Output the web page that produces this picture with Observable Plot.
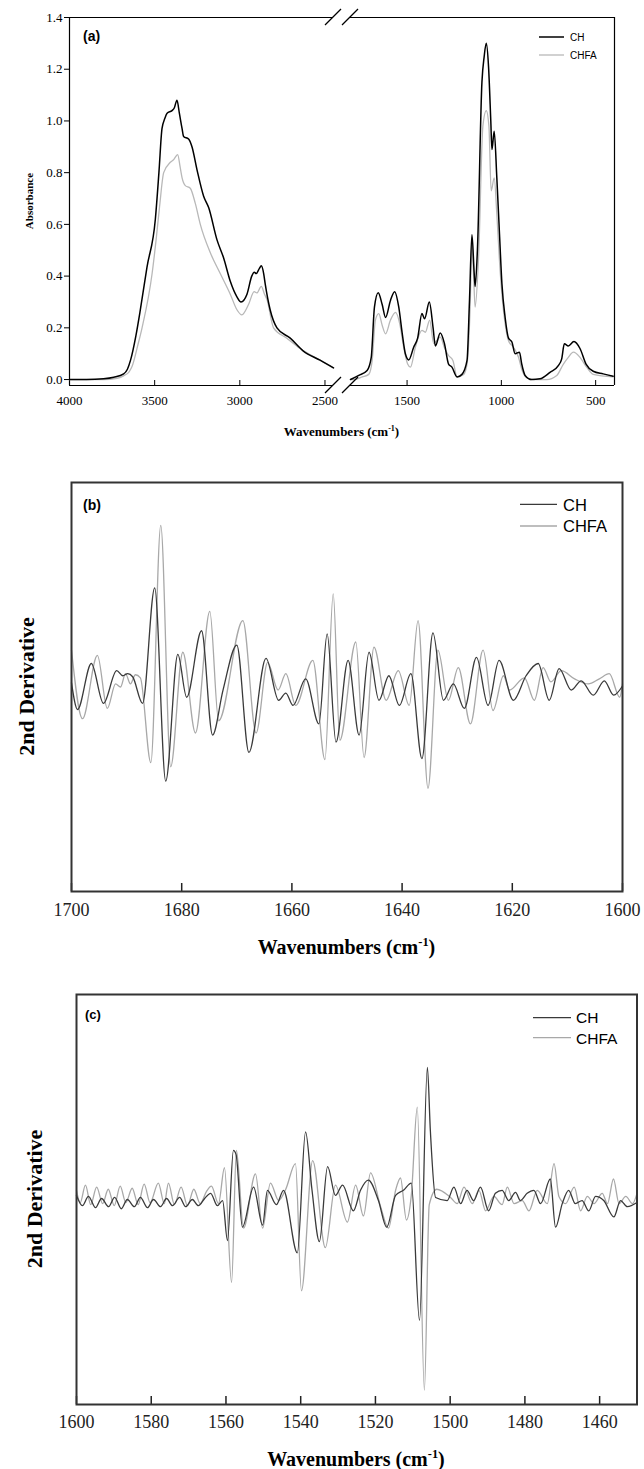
<!DOCTYPE html>
<html><head><meta charset="utf-8">
<script src="https://cdn.jsdelivr.net/npm/d3@7"></script>
<script src="https://cdn.jsdelivr.net/npm/@observablehq/plot@0.6"></script>
<style>
body{margin:0;background:#fff;}
#root{width:644px;}
#root svg{display:block;}
</style></head><body><div id="root"></div>
<script>
const SERIF = "Liberation Serif, Times New Roman, serif";
const SANS = "Liberation Sans, Arial, sans-serif";

// ---------- Panel (a): FTIR absorbance, [wavenumber, absorbance] ----------
const chLeft = [[4000,0.0],[3900,0.0],[3800,0.003],[3740,0.009],[3682,0.022],[3660,0.04],[3642,0.074],[3610,0.17],[3584,0.27],[3545,0.435],[3496,0.62],[3475,0.80],[3457,0.97],[3440,1.01],[3427,1.03],[3398,1.04],[3385,1.05],[3369,1.08],[3355,1.03],[3339,0.97],[3330,0.94],[3301,0.93],[3281,0.90],[3251,0.81],[3213,0.71],[3183,0.665],[3134,0.54],[3095,0.47],[3056,0.38],[3017,0.32],[2993,0.30],[2958,0.33],[2930,0.40],[2915,0.415],[2904,0.41],[2885,0.43],[2874,0.44],[2860,0.41],[2851,0.37],[2822,0.27],[2782,0.20],[2704,0.16],[2627,0.11],[2529,0.075],[2450,0.045]];
const chfaLeft = [[4000,0.0],[3900,0.0],[3800,0.0],[3720,0.005],[3680,0.015],[3650,0.03],[3633,0.05],[3600,0.13],[3574,0.20],[3515,0.41],[3490,0.55],[3471,0.67],[3447,0.80],[3408,0.84],[3389,0.85],[3365,0.87],[3350,0.82],[3339,0.78],[3320,0.75],[3291,0.74],[3261,0.68],[3232,0.60],[3173,0.49],[3115,0.41],[3056,0.33],[3017,0.27],[2988,0.25],[2949,0.29],[2916,0.34],[2900,0.335],[2874,0.36],[2855,0.33],[2841,0.31],[2802,0.20],[2724,0.16],[2646,0.12],[2529,0.075],[2450,0.045]];
const chRight = [[1800,0.0],[1791,0.003],[1756,0.016],[1712,0.035],[1690,0.086],[1673,0.28],[1653,0.336],[1632,0.29],[1614,0.24],[1588,0.306],[1566,0.34],[1544,0.28],[1526,0.18],[1509,0.10],[1491,0.076],[1465,0.125],[1444,0.16],[1421,0.255],[1407,0.235],[1382,0.30],[1362,0.20],[1350,0.13],[1324,0.18],[1302,0.14],[1280,0.06],[1262,0.048],[1235,0.01],[1209,0.02],[1182,0.074],[1169,0.306],[1156,0.56],[1144,0.41],[1139,0.36],[1127,0.50],[1103,1.15],[1091,1.25],[1080,1.30],[1068,1.21],[1056,1.00],[1050,0.89],[1038,0.96],[1024,0.78],[1010,0.565],[997,0.37],[980,0.24],[962,0.16],[944,0.145],[927,0.10],[904,0.106],[892,0.06],[874,0.016],[839,0.0],[795,0.003],[742,0.028],[698,0.054],[680,0.08],[666,0.138],[645,0.13],[615,0.147],[583,0.12],[551,0.06],[513,0.032],[460,0.022],[407,0.013]];
const chfaRight = [[1800,0.0],[1780,0.0],[1738,0.01],[1703,0.02],[1685,0.074],[1668,0.23],[1650,0.255],[1632,0.21],[1614,0.177],[1588,0.23],[1561,0.26],[1539,0.216],[1518,0.125],[1497,0.06],[1482,0.048],[1456,0.125],[1421,0.19],[1403,0.183],[1380,0.23],[1359,0.14],[1324,0.164],[1300,0.12],[1280,0.093],[1257,0.074],[1235,0.01],[1200,0.02],[1182,0.06],[1166,0.27],[1156,0.53],[1147,0.40],[1139,0.28],[1121,0.47],[1098,0.98],[1080,1.04],[1066,0.98],[1054,0.73],[1038,0.78],[1024,0.64],[1010,0.46],[997,0.33],[980,0.216],[962,0.15],[936,0.125],[909,0.086],[892,0.04],[866,0.008],[830,0.0],[760,0.0],[706,0.016],[671,0.06],[645,0.086],[618,0.106],[583,0.086],[548,0.048],[513,0.02],[407,0.01]];
const xDomA = [4000, 2450, 1800, 400];
const yDomA = [-0.023, 1.4];
const xTicksA = [4000, 3500, 3000, 2500, 1500, 1000, 500];
const yTicksA = [0, 0.2, 0.4, 0.6, 0.8, 1.0, 1.2, 1.4];

// ---------- Panel (b): 2nd derivative 1700–1600, [wavenumber, a.u.] ----------
const bCH = [[1700,0.04],[1698.9,-0.22],[1696.4,0.23],[1694.2,-0.16],[1691.8,0.16],[1690.7,0.11],[1689.8,0.13],[1688.9,0.10],[1687.1,-0.16],[1684.9,0.97],[1682.9,-0.92],[1680.7,0.32],[1679.1,-0.1],[1676.4,0.55],[1674.4,-0.47],[1672.5,-0.03],[1670.0,0.41],[1667.8,-0.64],[1664.7,0.28],[1662.4,-0.13],[1661.1,-0.06],[1659.8,-0.18],[1657.5,0.08],[1655.1,-0.36],[1653.6,0.52],[1652.0,-0.54],[1649.8,0.26],[1647.8,-0.47],[1646.0,0.34],[1644.2,-0.13],[1642.4,0.11],[1640.5,-0.18],[1638.4,0.13],[1636.4,-0.70],[1634.4,0.53],[1632.5,-0.13],[1630.7,0.03],[1628.7,-0.21],[1626.5,0.29],[1624.4,-0.18],[1622.4,0.26],[1619.8,-0.13],[1617.5,0.11],[1615.3,0.23],[1613.3,-0.13],[1611.5,0.18],[1609.3,-0.03],[1607.5,0.06],[1605.3,-0.08],[1603.3,0.06],[1601.6,-0.08],[1600,0.01]];
const bCHFA = [[1700,0.36],[1698.0,-0.31],[1695.3,0.31],[1693.5,-0.21],[1692.0,0.03],[1691.1,0.0],[1690.2,0.13],[1689.3,0.03],[1688.4,0.12],[1687.5,0.09],[1685.6,-0.74],[1683.8,1.58],[1682.0,-0.78],[1679.8,0.34],[1677.5,-0.45],[1674.9,0.74],[1673.3,-0.33],[1668.9,0.65],[1666.5,-0.45],[1664.4,0.24],[1662.5,-0.03],[1661.1,0.13],[1659.3,-0.18],[1656.2,0.26],[1654.0,-0.71],[1652.5,0.91],[1651.3,-0.52],[1648.4,0.44],[1646.9,-0.69],[1645.1,0.39],[1642.9,-0.13],[1640.7,0.16],[1638.7,-0.18],[1637.1,0.65],[1635.3,-0.99],[1633.5,0.36],[1631.6,-0.13],[1629.8,0.19],[1627.6,-0.36],[1625.3,0.36],[1623.5,-0.23],[1621.6,0.11],[1620.5,-0.03],[1617.8,0.09],[1616.0,-0.13],[1614.4,0.19],[1613.0,0.05],[1611.1,0.16],[1608.7,0.08],[1606.2,0.03],[1604.2,0.08],[1602.4,0.13],[1600.5,-0.10],[1600,0.03]];
const xTicksB = [1700, 1680, 1660, 1640, 1620, 1600];

// ---------- Panel (c): 2nd derivative 1600–1450, [wavenumber, a.u.] ----------
const cCH = [[1600,0.04],[1598.4,-0.06],[1596.8,0.03],[1594.9,-0.08],[1593.3,0.01],[1591.4,-0.07],[1589.8,0.02],[1588.0,-0.09],[1586.4,0.0],[1584.5,-0.07],[1582.9,0.02],[1581.0,-0.08],[1579.4,0.0],[1577.5,-0.07],[1575.9,0.01],[1574.3,-0.06],[1572.4,0.02],[1570.8,-0.07],[1569.0,0.0],[1567.4,-0.06],[1565.7,0.01],[1564.1,0.06],[1562.3,-0.06],[1560.9,-0.01],[1559.6,-0.40],[1558.0,0.48],[1557.3,0.44],[1555.6,-0.27],[1552.6,0.12],[1550.2,-0.25],[1548.9,0.09],[1546.5,-0.05],[1544.6,0.09],[1540.9,-0.52],[1538.7,0.66],[1537.0,0.1],[1535.0,-0.41],[1532.8,0.32],[1530.7,0.04],[1528.8,0.14],[1525.9,-0.11],[1524.0,0.09],[1521.9,0.19],[1519.2,-0.01],[1517.0,-0.27],[1514.6,0.04],[1512.5,0.09],[1510.4,0.16],[1508.2,-1.18],[1506.1,1.29],[1505.3,0.67],[1503.9,0.02],[1500.8,-0.01],[1499.0,0.12],[1497.2,-0.04],[1495.5,0.09],[1493.7,-0.01],[1491.9,0.12],[1489.7,-0.11],[1487.9,0.06],[1486.1,0.09],[1484.3,-0.01],[1482.5,0.07],[1481.2,-0.01],[1479.4,0.06],[1477.6,0.09],[1475.8,-0.04],[1473.2,0.20],[1471.8,-0.27],[1470.0,-0.04],[1468.3,0.09],[1466.5,-0.04],[1464.7,-0.01],[1462.9,-0.11],[1461.1,0.03],[1458.9,-0.01],[1456.2,-0.17],[1454.4,-0.01],[1452.6,-0.07],[1450,-0.03]];
const cCHFA = [[1600,0.09],[1599.0,-0.03],[1597.6,0.14],[1596.2,-0.05],[1594.6,0.12],[1593.0,-0.04],[1591.5,0.10],[1589.9,-0.06],[1588.3,0.13],[1586.8,-0.03],[1585.1,0.11],[1583.5,-0.05],[1581.9,0.15],[1580.3,-0.03],[1578.1,0.16],[1576.5,-0.04],[1575.4,0.16],[1573.8,-0.05],[1572.0,0.12],[1570.3,-0.06],[1568.6,0.10],[1566.9,-0.04],[1565.2,0.08],[1563.9,0.13],[1562.0,-0.04],[1560.4,0.31],[1558.5,-0.81],[1557.2,0.48],[1555.3,-0.28],[1552.1,0.25],[1550.2,-0.28],[1548.1,0.16],[1545.9,-0.01],[1544.0,0.10],[1541.4,0.35],[1539.8,-0.89],[1536.8,0.38],[1533.4,-0.47],[1530.7,0.14],[1527.5,-0.22],[1525.3,0.14],[1523.2,-0.16],[1521.3,0.26],[1518.7,-0.06],[1516.5,-0.28],[1514.6,0.09],[1513.3,0.21],[1511.7,-0.20],[1510.4,0.04],[1508.8,0.90],[1506.9,-1.86],[1505.6,-0.05],[1503.6,0.10],[1499.9,0.02],[1498.1,-0.04],[1496.3,0.12],[1494.1,-0.04],[1492.3,0.09],[1490.5,-0.11],[1488.3,0.03],[1486.1,-0.05],[1484.7,0.12],[1482.9,-0.04],[1480.7,-0.01],[1478.9,-0.11],[1476.7,0.09],[1474.0,-0.04],[1472.2,0.35],[1470.9,0.03],[1469.1,-0.04],[1466.8,0.12],[1465.1,-0.11],[1463.3,0.03],[1461.5,-0.04],[1459.3,0.06],[1457.9,-0.04],[1456.3,0.20],[1454.8,-0.04],[1453.0,0.03],[1451.2,-0.04],[1450,0.06]];
const xTicksC = [1600, 1580, 1560, 1540, 1520, 1500, 1480, 1460];

const seriesNames = ["CH", "CHFA"];

// ---------- helpers ----------
function txt(svg, x, y, s, o = {}) {
  const t = svg.append("text").attr("x", x).attr("y", y)
    .attr("font-family", o.family || SANS).attr("font-size", o.size || 12)
    .attr("font-weight", o.weight || "normal").attr("fill", o.fill || "#000")
    .attr("text-anchor", o.anchor || "start").text(s);
  if (o.rotate) t.attr("transform", `rotate(${o.rotate},${x},${y})`);
  return t;
}
function wavLabel(svg, x, y, size) {
  const t = svg.append("text").attr("x", x).attr("y", y).attr("text-anchor", "middle")
    .attr("font-family", SERIF).attr("font-weight", "bold").attr("font-size", size).attr("fill", "#000");
  t.append("tspan").text("Wavenumbers (cm");
  t.append("tspan").attr("dy", -size * 0.42).attr("font-size", size * 0.62).text("-1");
  t.append("tspan").attr("dy", size * 0.42).text(")");
}
function legend(svg, x1, x2, ys, tx, tys, size, colors, widths) {
  seriesNames.forEach((n, i) => {
    svg.append("line").attr("x1", x1).attr("x2", x2).attr("y1", ys[i]).attr("y2", ys[i])
      .attr("stroke", colors[i]).attr("stroke-width", widths[i]);
    txt(svg, tx, tys[i], n, {size, family: SANS});
  });
}
function serifTicks(chart) {
  d3.select(chart).selectAll("g[aria-label$='tick label'] text, g[aria-label$='tick label']")
    .attr("font-family", SERIF).style("font-family", SERIF);
}
const xy = {x: d => d[0], y: d => d[1]};
const root = document.getElementById("root");

// ---------- Chart (a) ----------
const frameA = [
  {x1: xDomA[0], x2: xDomA[1], y: yDomA[0]}, {x1: xDomA[2], x2: xDomA[3], y: yDomA[0]},
  {x1: xDomA[0], x2: xDomA[1], y: yDomA[1]}, {x1: xDomA[2], x2: xDomA[3], y: yDomA[1]}
];
const chartA = Plot.plot({
  width: 644, height: 445,
  marginTop: 17, marginRight: 30, marginBottom: 60, marginLeft: 69,
  style: {fontFamily: SERIF, background: "white", color: "#000"},
  x: {type: "linear", domain: xDomA, range: [69, 333, 350, 614]},
  y: {domain: yDomA},
  marks: [
    Plot.ruleX([xDomA[0], xDomA[3]], {stroke: "#000", strokeWidth: 1.2}),
    Plot.ruleY(frameA, {x1: "x1", x2: "x2", y: "y", stroke: "#000", strokeWidth: 1.2}),
    Plot.axisY({ticks: yTicksA, tickFormat: d3.format(".1f"), tickSize: 5, tickPadding: 2, fontSize: 13, fontFamily: SERIF, label: null}),
    Plot.axisX({ticks: xTicksA, tickFormat: d3.format("d"), tickSize: -5, tickPadding: 15, fontSize: 13, fontFamily: SERIF, label: null}),
    Plot.line(chfaLeft, {...xy, stroke: "#b8b8b8", strokeWidth: 1.3, curve: "monotone-x"}),
    Plot.line(chfaRight, {...xy, stroke: "#b8b8b8", strokeWidth: 1.3, curve: "monotone-x"}),
    Plot.line(chLeft, {...xy, stroke: "#000", strokeWidth: 1.5, curve: "monotone-x"}),
    Plot.line(chRight, {...xy, stroke: "#000", strokeWidth: 1.5, curve: "monotone-x"})
  ]
});
root.appendChild(chartA);
serifTicks(chartA);
{
  const svg = d3.select(chartA);
  const sx = chartA.scale("x"), sy = chartA.scale("y");
  [xDomA[1], xDomA[2]].forEach(bx => {
    yDomA.forEach(by => {
      const px = sx.apply(bx), py = sy.apply(by);
      svg.append("line").attr("x1", px - 8).attr("y1", py + 8).attr("x2", px + 8).attr("y2", py - 8)
        .attr("stroke", "#000").attr("stroke-width", 1.2);
    });
  });
  txt(svg, 83, 41, "(a)", {size: 14, weight: "bold"});
  txt(svg, 33, 201, "Absorbance", {family: SERIF, size: 11, weight: "bold", anchor: "middle", rotate: -90});
  wavLabel(svg, 341.5, 436, 13);
  legend(svg, 539, 564, [37, 55], 570, [41, 58.5], 10, ["#000", "#b8b8b8"], [1.5, 1.3]);
}

// ---------- Chart (b) ----------
const chartB = Plot.plot({
  width: 644, height: 530,
  marginTop: 37, marginRight: 22, marginBottom: 84, marginLeft: 71,
  style: {fontFamily: SERIF, background: "white", color: "#222"},
  x: {domain: [1700, 1600]},
  y: {domain: [-2, 2], axis: null},
  marks: [
    Plot.axisX({ticks: xTicksB, tickFormat: d3.format("d"), tickSize: -8, tickPadding: 20, fontSize: 18, fontFamily: SERIF, label: null, strokeWidth: 1.5}),
    Plot.line(bCHFA, {...xy, stroke: "#a8a8a8", strokeWidth: 1.3, curve: "monotone-x"}),
    Plot.line(bCH, {...xy, stroke: "#3a3a3a", strokeWidth: 1.3, curve: "monotone-x"}),
    Plot.frame({stroke: "#333", strokeWidth: 2})
  ]
});
root.appendChild(chartB);
serifTicks(chartB);
{
  const svg = d3.select(chartB);
  txt(svg, 83, 65, "(b)", {size: 14, weight: "bold"});
  txt(svg, 34, 241.5, "2nd Derivative", {family: SERIF, size: 22, weight: "bold", anchor: "middle", rotate: -90});
  wavLabel(svg, 346.5, 509, 20);
  legend(svg, 520, 557, [59.3, 81], 563, [66, 86.7], 16.5, ["#3a3a3a", "#a8a8a8"], [1.3, 1.3]);
}

// ---------- Chart (c) ----------
const chartC = Plot.plot({
  width: 644, height: 494,
  marginTop: 19, marginRight: 7.5, marginBottom: 65, marginLeft: 76,
  style: {fontFamily: SERIF, background: "white", color: "#222"},
  x: {domain: [1600, 1450]},
  y: {domain: [-2, 2], axis: null},
  marks: [
    Plot.axisX({ticks: xTicksC, tickFormat: d3.format("d"), tickSize: -8, tickPadding: 19, fontSize: 18, fontFamily: SERIF, label: null, strokeWidth: 1.5}),
    Plot.line(cCHFA, {...xy, stroke: "#a8a8a8", strokeWidth: 1.3, curve: "monotone-x"}),
    Plot.line(cCH, {...xy, stroke: "#3a3a3a", strokeWidth: 1.3, curve: "monotone-x"}),
    Plot.frame({stroke: "#333", strokeWidth: 2})
  ]
});
root.appendChild(chartC);
serifTicks(chartC);
{
  const svg = d3.select(chartC);
  txt(svg, 85, 44, "(c)", {size: 13, weight: "bold"});
  txt(svg, 42, 224, "2nd Derivative", {family: SERIF, size: 22, weight: "bold", anchor: "middle", rotate: -90});
  wavLabel(svg, 356, 491, 20);
  legend(svg, 533, 571, [42.7, 62.7], 576, [48.3, 69], 15.5, ["#3a3a3a", "#a8a8a8"], [1.3, 1.3]);
}
</script></body></html>
